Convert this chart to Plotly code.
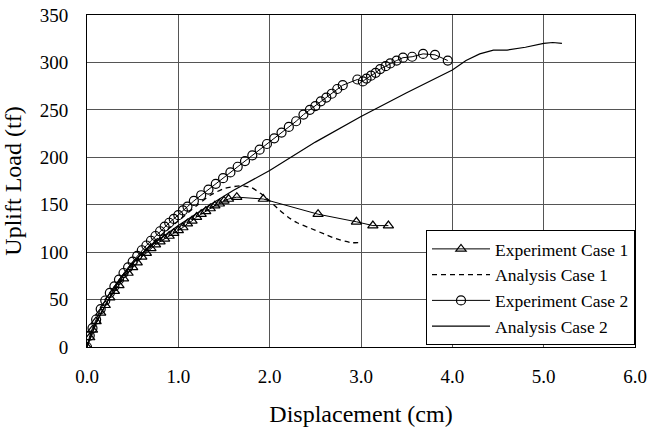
import plotly.graph_objects as go

# Experiment Case 1 (triangles)
exp1_x = [0.0, 0.03, 0.06, 0.1, 0.15, 0.2, 0.25, 0.3, 0.35, 0.4, 0.45, 0.5, 0.55, 0.6, 0.65,
          0.7, 0.75, 0.8, 0.85, 0.9, 0.95, 1.0, 1.05, 1.1, 1.15, 1.2, 1.25, 1.3, 1.35, 1.4,
          1.45, 1.5, 1.55, 1.64, 1.93, 2.53, 2.95, 3.13, 3.30]
exp1_y = [0, 10, 18, 27, 36, 44, 52, 59, 65, 72, 78, 84, 89, 95, 99,
          104, 108, 111, 114, 117, 120, 123, 126, 130, 133, 137, 140, 143, 146, 149,
          151, 154, 156, 158, 156, 140, 132, 128, 128]

# Analysis Case 1 (dotted)
ana1_x = [0.0, 0.1, 0.2, 0.35, 0.5, 0.65, 0.8, 1.0, 1.2, 1.35, 1.5, 1.6, 1.7, 1.8, 1.9,
          2.0, 2.1, 2.2, 2.3, 2.45, 2.6, 2.7, 2.8, 2.9, 3.0]
ana1_y = [0, 25, 44, 67, 86, 103, 117, 133, 149, 160, 167, 169, 170, 168, 162,
          154, 145, 137, 131, 125, 119, 115, 112, 110, 110]

# Experiment Case 2 (circles)
exp2_x = [0.0, 0.03, 0.06, 0.1, 0.15, 0.2, 0.25, 0.3, 0.35, 0.4, 0.45, 0.5, 0.55, 0.6, 0.65,
          0.7, 0.75, 0.8, 0.85, 0.9, 0.95, 1.0, 1.05, 1.1, 1.17, 1.25, 1.33, 1.41, 1.49,
          1.57, 1.65, 1.73, 1.81, 1.89, 1.97, 2.05, 2.13, 2.21, 2.29, 2.37, 2.44, 2.5,
          2.56, 2.62, 2.68, 2.74, 2.80, 2.96, 3.02, 3.06, 3.11, 3.16, 3.21, 3.27, 3.32,
          3.39, 3.46, 3.56, 3.68, 3.81, 3.95]
exp2_y = [0, 12, 20, 29, 40, 49, 57, 64, 71, 78, 84, 90, 96, 102, 107,
          112, 117, 122, 127, 131, 135, 139, 144, 148, 154, 160, 166, 172, 178,
          184, 190, 196, 202, 208, 214, 220, 226, 232, 238, 245, 250, 254,
          259, 263, 267, 272, 276, 282, 280, 283, 286, 289, 293, 296, 299,
          302, 305, 306, 309, 308, 302]

# Analysis Case 2 (solid line)
ana2_x = [0.0, 0.1, 0.3, 0.5, 0.7, 1.0, 1.3, 1.6, 2.0, 2.5, 3.0, 3.5, 4.0, 4.15, 4.3,
          4.45, 4.6, 4.8, 5.0, 5.1, 5.2]
ana2_y = [0, 25, 62, 89, 107, 128, 147, 165, 186, 216, 243, 268, 292, 302, 309,
          313, 313, 316, 320, 321, 320]

x_ticks = [0, 1, 2, 3, 4, 5, 6]
x_tick_labels = ["0.0", "1.0", "2.0", "3.0", "4.0", "5.0", "6.0"]
y_ticks = [0, 50, 100, 150, 200, 250, 300, 350]

FONT = "Liberation Serif"

fig = go.Figure()
fig.add_trace(go.Scatter(
    x=exp1_x, y=exp1_y, name="Experiment Case 1", mode="lines+markers",
    line=dict(color="black", width=1),
    marker=dict(symbol="triangle-up-open", size=9, color="black", line=dict(width=1.2)),
))
fig.add_trace(go.Scatter(
    x=ana1_x, y=ana1_y, name="Analysis Case 1", mode="lines",
    line=dict(color="black", width=1.3, dash="5px,4px", shape="spline", smoothing=0.6),
))
fig.add_trace(go.Scatter(
    x=exp2_x, y=exp2_y, name="Experiment Case 2", mode="lines+markers",
    line=dict(color="black", width=1),
    marker=dict(symbol="circle-open", size=9, color="black", line=dict(width=1.2)),
))
fig.add_trace(go.Scatter(
    x=ana2_x, y=ana2_y, name="Analysis Case 2", mode="lines",
    line=dict(color="black", width=1.2),
))

axis_common = dict(
    showline=True, linecolor="black", linewidth=1, mirror=True,
    showgrid=True, gridcolor="#555555", gridwidth=1,
    zeroline=False, ticks="", automargin=False, ticklabeloverflow="allow",
    tickfont=dict(family=FONT, size=19, color="black"),
)

fig.update_xaxes(
    range=[0, 6], tickvals=x_ticks, ticktext=x_tick_labels,
    title=dict(text="Displacement (cm)", font=dict(family=FONT, size=24, color="black"), standoff=19),
    ticklabelstandoff=12,
    **axis_common,
)
fig.update_yaxes(
    range=[0, 350], tickvals=y_ticks,
    title=dict(text="Uplift Load (tf)", font=dict(family=FONT, size=24, color="black"), standoff=12),
    ticklabelstandoff=14,
    **axis_common,
)

fig.update_layout(
    width=651, height=427,
    margin=dict(l=87, r=16, t=15, b=80),
    paper_bgcolor="white", plot_bgcolor="white",
    font=dict(family=FONT, color="black"),
    showlegend=True,
    legend=dict(
        x=1, xanchor="right", y=0.006, yanchor="bottom",
        bgcolor="white", bordercolor="black", borderwidth=1,
        font=dict(family=FONT, size=17.5, color="black"),
        tracegroupgap=0, itemwidth=58,
    ),
)

fig.write_html("out.html", config={"displayModeBar": False},
               post_script="document.body.style.margin='0';")
